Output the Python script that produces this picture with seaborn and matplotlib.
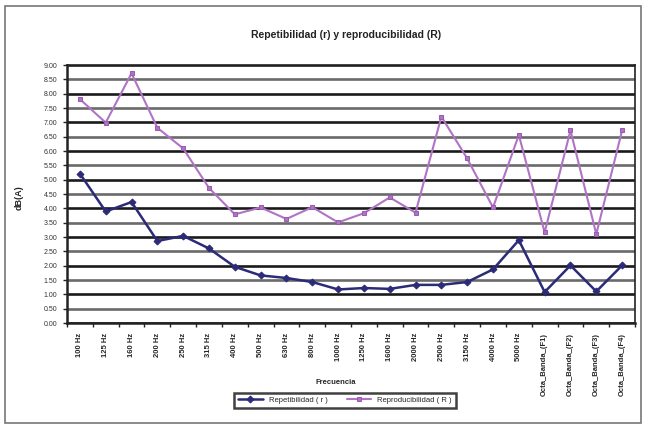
import matplotlib
matplotlib.use("Agg")
import matplotlib.pyplot as plt
import numpy as np
import pandas as pd
import seaborn as sns
from matplotlib.patches import Rectangle

# Datos
frecuencias = ["100 Hz", "125 Hz", "160 Hz", "200 Hz", "250 Hz", "315 Hz",
               "400 Hz", "500 Hz", "630 Hz", "800 Hz", "1000 Hz", "1250 Hz",
               "1600 Hz", "2000 Hz", "2500 Hz", "3150 Hz", "4000 Hz", "5000 Hz",
               "Octa_Banda_(F1)", "Octa_Banda_(F2)", "Octa_Banda_(F3)", "Octa_Banda_(F4)"]
repetibilidad = [5.21, 3.89, 4.22, 2.86, 3.04, 2.60, 1.96, 1.66, 1.57, 1.43, 1.17,
                 1.22, 1.19, 1.33, 1.33, 1.43, 1.87, 2.89, 1.08, 2.01, 1.10, 2.01]
reproducibilidad = [7.81, 6.99, 8.71, 6.81, 6.09, 4.71, 3.79, 4.03, 3.63, 4.04, 3.51,
                    3.83, 4.38, 3.85, 7.20, 5.74, 4.03, 6.56, 3.16, 6.72, 3.10, 6.72]
y_ticks = np.arange(0, 9.01, 0.5)


def main():
    sns.set_style("white")
    plt.rcParams["font.family"] = ["Liberation Sans", "DejaVu Sans"]

    fig = plt.figure(figsize=(6.46, 4.25), dpi=100)
    ax = fig.add_axes([0.1037, 0.24, 0.8793, 0.607])

    # Líneas de cuadrícula horizontales (alternando negro y gris)
    for i, t in enumerate(y_ticks):
        color = "#1a1a1a" if i % 2 == 0 else "#6a6a6a"
        ax.axhline(t, color=color, lw=1.9, zorder=0)

    x = np.arange(len(frecuencias))
    sns.lineplot(x=x, y=repetibilidad, ax=ax, color="#2b2b78", marker="D",
                 markersize=3.5, markeredgecolor="#2b2b78", lw=1.8,
                 label="Repetibilidad ( r )", sort=False, zorder=3)
    sns.lineplot(x=x, y=reproducibilidad, ax=ax, color="#b074c4", marker="s",
                 markersize=3.5, markeredgecolor="#9a5cb0", lw=1.5,
                 label="Reproducibilidad ( R )", sort=False, zorder=3)

    ax.set_xlim(-0.5, len(frecuencias) - 0.5)
    ax.set_ylim(0, 9)
    ax.set_yticks(y_ticks)
    ax.set_yticklabels([f"{t:.2f}" for t in y_ticks], fontsize=5, color="#333333")
    ax.set_xticks(x)
    ax.set_xticklabels(frecuencias, rotation=90, fontsize=5.5, fontweight="bold")
    # Marcas entre categorías, como en Excel
    ax.set_xticks(np.arange(-0.5, len(frecuencias), 1.0), minor=True)
    ax.tick_params(axis="x", which="major", length=0, pad=7)
    ax.tick_params(axis="x", which="minor", length=3, width=1, color="#222222",
                   direction="out", bottom=True)
    ax.tick_params(axis="y", length=3, width=1, color="#222222", left=True, pad=4)

    for side, sp in ax.spines.items():
        sp.set_color("#222222")
        sp.set_linewidth(1.2)
    ax.spines["bottom"].set_linewidth(1.8)
    ax.spines["left"].set_linewidth(1.8)

    ax.set_xlabel("")
    ax.set_ylabel("")
    fig.text(0.535, 0.918, "Repetibilidad (r) y reproducibilidad (R)",
             ha="center", va="center", fontsize=7.5, fontweight="bold", color="#222222")
    fig.text(0.03, 0.535, "dB(A)", rotation=90, ha="center", va="center",
             fontsize=6.5, fontweight="bold")
    fig.text(0.52, 0.10, "Frecuencia", ha="center", va="center",
             fontsize=5.5, fontweight="bold")

    leg = ax.legend(loc="center", bbox_to_anchor=(0.534, 0.058),
                    bbox_transform=fig.transFigure, ncol=2, fontsize=5.5,
                    frameon=True, fancybox=False, handlelength=3.2,
                    columnspacing=2.5, borderpad=0.5)
    leg.get_frame().set_edgecolor("#111111")
    leg.get_frame().set_linewidth(1.8)

    # Marco exterior del gráfico
    fig.patches.append(Rectangle((0.008, 0.005), 0.985, 0.98, transform=fig.transFigure,
                                 fill=False, edgecolor="#777777", lw=1.2))

    fig.savefig("out.png", dpi=100)


if __name__ == "__main__":
    main()
